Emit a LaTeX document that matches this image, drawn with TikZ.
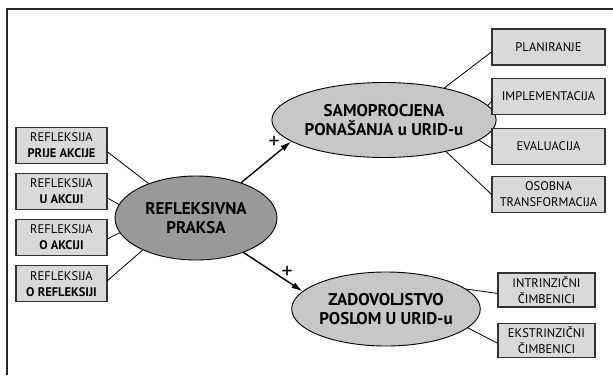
\documentclass[tikz,border=0pt]{standalone}
\usepackage{fontspec}
\setmainfont{PT Sans}
\usepackage{tikz}
\usetikzlibrary{shapes, arrows.meta, positioning}

\begin{document}
\begin{tikzpicture}[
        x=1pt, y=1pt,
        node distance=9pt,
        box/.style={rectangle, draw=black!80, fill=black!15, line width=1.1pt, minimum width=91pt, minimum height=36pt, inner sep=0pt, align=center, font=\fontsize{12.5}{16}\selectfont},
        widebox/.style={box, minimum width=113pt},
        midbox/.style={box, minimum width=97pt, minimum height=34pt},
        topic/.style={ellipse, draw, line width=0.9pt, fill=black!22, inner sep=0pt, align=center, font=\bfseries\fontsize{17}{19}\selectfont},
        link/.style={line width=0.8pt},
        push/.style={line width=1.4pt, -{Latex[length=11pt,width=6.5pt]}},
        sign/.style={font=\fontsize{22}{22}\selectfont, inner sep=0pt}
    ]
        \useasboundingbox (0,0) rectangle (613,-375);

        % Frame
        \draw[line width=1.3pt, black!85] (7,-375) -- (7,-9) -- (613,-9);

        % Main topics
        \node[topic, fill=black!40, minimum width=162pt, minimum height=84pt] (praksa) at (196,-218) {REFLEKSIVNA\\PRAKSA};
        \node[topic, minimum width=168pt, minimum height=75pt] (samo) at (384,-120) {SAMOPROCJENA\\PONAŠANJA u URID-u};
        \node[topic, minimum width=172pt, minimum height=74pt] (zad) at (386,-309) {ZADOVOLJSTVO\\POSLOM U URID-u};

        % Reflection boxes
        \node[box] (prije) at (61.5,-145.5) {REFLEKSIJA\\\textbf{PRIJE AKCIJE}};
        \node[box, below=of prije] (uakc) {REFLEKSIJA\\\textbf{U AKCIJI}};
        \node[box, below=8.5pt of uakc] (oakc) {REFLEKSIJA\\\textbf{O AKCIJI}};
        \node[box, below=9.5pt of oakc] (oref) {REFLEKSIJA\\\textbf{O REFLEKSIJI}};

        % Self-assessment boxes
        \node[widebox] (plan) at (548.5,-47) {PLANIRANJE};
        \node[widebox, below=12.5pt of plan] (impl) {IMPLEMENTACIJA};
        \node[widebox, below=12.5pt of impl] (eval) {EVALUACIJA};
        \node[widebox, below=11pt of eval] (trans) {OSOBNA\\TRANSFORMACIJA};

        % Satisfaction boxes
        \node[midbox] (intr) at (546.5,-290) {INTRINZIČNI\\ČIMBENICI};
        \node[midbox, below=15.5pt of intr] (ekst) {EKSTRINZIČNI\\ČIMBENICI};

        % Links
        \draw[link] (prije.-8) -- (praksa.144);
        \draw[link] (uakc.-8) -- (praksa.170);
        \draw[link] (oakc.-2) -- (praksa.191);
        \draw[link] (oref.4) -- (praksa.211);

        \draw[link] (samo.28) -- (plan.185);
        \draw[link] (samo.8) -- (impl.185);
        \draw[link] (samo.-12) -- (eval.182);
        \draw[link] (samo.-27) -- (trans.180);

        \draw[link] (zad.14) -- (intr.184);
        \draw[link] (zad.-13) -- (ekst.183);

        % Arrows
        \draw[push] (praksa.38) -- node[sign, pos=0.8, above left=1pt] {+} (samo.193);
        \draw[push] (praksa.-36) -- node[sign, pos=0.74, above=2pt] {+} (zad.168);

    \end{tikzpicture}
\end{document}
